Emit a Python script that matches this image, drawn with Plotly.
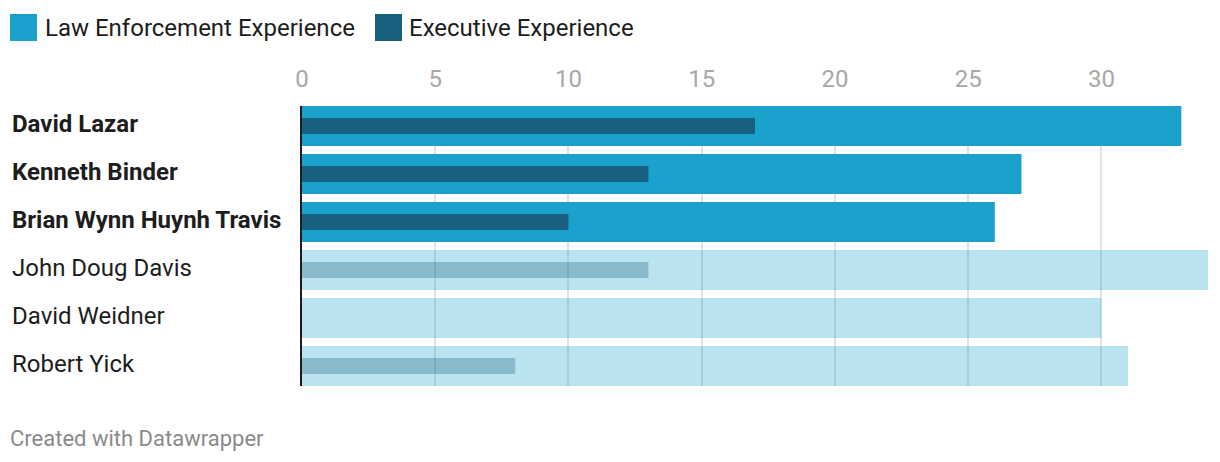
import plotly.graph_objects as go

names = ["David Lazar", "Kenneth Binder", "Brian Wynn Huynh Travis",
         "John Doug Davis", "David Weidner", "Robert Yick"]
highlight = [True, True, True, False, False, False]
law_enforcement = [33, 27, 26, 34, 30, 31]
executive = [17, 13, 10, 13, 0, 8]
tick_vals = [0, 5, 10, 15, 20, 25, 30]
series_names = ["Law Enforcement Experience", "Executive Experience"]

LE_ON = "#1aa1cc"
LE_OFF = "rgba(26,161,204,0.3)"
EX_ON = "#17607e"
EX_OFF = "rgba(23,96,126,0.3)"

le_colors = [LE_ON if h else LE_OFF for h in highlight]
ex_colors = [EX_ON if h else EX_OFF for h in highlight]

fig = go.Figure()
fig.add_trace(go.Bar(y=names, x=law_enforcement, orientation="h", name=series_names[0],
                     marker=dict(color=le_colors, line=dict(width=0)), width=0.833,
                     hoverinfo="x+y"))
fig.add_trace(go.Bar(y=names, x=executive, orientation="h", name=series_names[1],
                     marker=dict(color=ex_colors, line=dict(width=0)), width=0.333,
                     hoverinfo="x+y"))

OFF = 8  # page body margin
W, H = 1220 - OFF, 462 - OFF
L, R, T, B = 302 - OFF, 12, 106 - OFF, 462 - 386
pw = W - L - R
ph = H - T - B


def px_x(v):
    return (v - OFF - L) / pw


def px_y(v):
    return (H - B - (v - OFF)) / ph


annotations = []
for n, h in zip(names, highlight):
    annotations.append(dict(
        x=px_x(12), xref="paper", y=n, yref="y", xanchor="left", yanchor="middle",
        xshift=-2, yshift=2,
        text=f"<b>{n}</b>" if h else n, showarrow=False,
        font=dict(family="Roboto", size=24, color="#1d1d1d")))

shapes = []
legend_items = [(10, 45, LE_ON, series_names[0]), (375, 409, EX_ON, series_names[1])]
for sx, tx, col, label in legend_items:
    shapes.append(dict(type="rect", xref="paper", yref="paper",
                       x0=px_x(sx), x1=px_x(sx + 27), y0=px_y(41), y1=px_y(14),
                       fillcolor=col, line=dict(width=0), layer="above"))
    annotations.append(dict(x=px_x(tx), y=px_y(28), xref="paper", yref="paper",
                            xanchor="left", yanchor="middle", xshift=-2,
                            text=label, showarrow=False,
                            font=dict(family="Roboto", size=24, color="#1d1d1d")))

annotations.append(dict(x=px_x(10), y=px_y(438), xref="paper", yref="paper",
                        xanchor="left", yanchor="middle", xshift=-2,
                        text="Created with Datawrapper",
                        showarrow=False, font=dict(family="Roboto", size=22, color="#8a8a8a")))

fig.update_layout(
    width=W, height=H,
    margin=dict(l=L, r=R, t=T, b=B, pad=0),
    paper_bgcolor="white", plot_bgcolor="white",
    barmode="overlay", showlegend=False,
    font=dict(family="Roboto"),
    annotations=annotations, shapes=shapes,
    xaxis=dict(range=[0, 34], side="top", tickvals=tick_vals,
               showgrid=True, gridcolor="#e2e2e2", gridwidth=1.5,
               zeroline=False, ticks="outside", ticklen=8, tickcolor="rgba(0,0,0,0)",
               tickfont=dict(family="Roboto", size=24, color="#a8a8a8"),
               fixedrange=True),
    yaxis=dict(autorange=False, range=[5.4167, -0.4167], categoryorder="array",
               categoryarray=names, showticklabels=False, showgrid=False,
               showline=True, linecolor="#1d1d1d", linewidth=2, zeroline=False,
               fixedrange=True),
)

fig.write_html("out.html", config={"displayModeBar": False})
